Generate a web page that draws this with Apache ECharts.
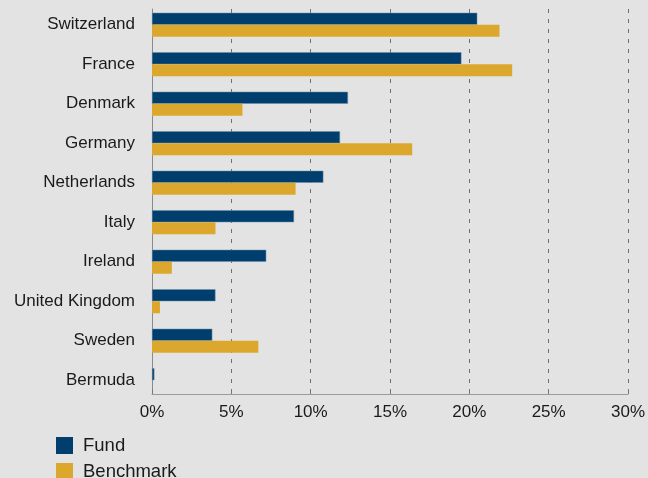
<!DOCTYPE html>
<html><head><meta charset="utf-8">
<script src="https://cdn.jsdelivr.net/npm/echarts@6/dist/echarts.min.js"></script>
<style>html,body{margin:0;padding:0;background:#e3e3e3}#c{width:648px;height:478px}</style>
</head><body><div id="c"></div>
<script>
const categories = ["Switzerland","France","Denmark","Germany","Netherlands","Italy","Ireland","United Kingdom","Sweden","Bermuda"];
const fund = [20.5, 19.5, 12.35, 11.85, 10.8, 8.95, 7.2, 4.0, 3.8, 0.15];
const benchmark = [21.9, 22.7, 5.7, 16.4, 9.05, 4.0, 1.25, 0.5, 6.7, 0];
const xTicks = [0, 5, 10, 15, 20, 25, 30];
const seriesNames = ["Fund", "Benchmark"];
const font = "'Liberation Sans', Arial, sans-serif";
const xMin = xTicks[0], xMax = xTicks[xTicks.length - 1];
const chart = echarts.init(document.getElementById('c'));
chart.setOption({
  backgroundColor: '#e3e3e3',
  animation: false,
  textStyle: {fontFamily: font},
  grid: [
    {left: 152, right: 20, top: 5, height: 395},
    {left: 152, right: 20, top: 9, bottom: 84}
  ],
  legend: {
    orient: 'vertical', left: 56, top: 436, height: 60, itemWidth: 17, itemHeight: 17, itemGap: 7,
    padding: 0, icon: 'rect', data: seriesNames,
    itemStyle: {borderWidth: 0},
    textStyle: {fontSize: 18.5, lineHeight: 17, color: '#1a1a1a', fontFamily: font, padding: [0, 0, 0, 5]}
  },
  xAxis: [
    {type: 'value', gridIndex: 0, min: xMin, max: xMax, interval: 5, show: false},
    {
      type: 'value', gridIndex: 1, min: xMin, max: xMax, interval: 5,
      axisLine: {show: true, lineStyle: {color: '#9a9a9a', width: 1}},
      axisTick: {show: true, inside: true, length: 5, lineStyle: {color: '#777'}},
      splitLine: {show: true, lineStyle: {color: '#707070', type: [4, 6], width: 1}},
      axisLabel: {formatter: v => v + '%', fontSize: 17, color: '#1a1a1a', margin: 10, fontFamily: font}
    }
  ],
  yAxis: [
    {
      type: 'category', gridIndex: 0, data: categories, inverse: true,
      axisLine: {show: false}, axisTick: {show: false}, splitLine: {show: false},
      axisLabel: {fontSize: 17, color: '#1a1a1a', margin: 17, fontFamily: font}
    },
    {
      type: 'value', gridIndex: 1, min: 0, max: 1,
      axisLine: {show: true, lineStyle: {color: '#8a8a8a', width: 1}},
      axisTick: {show: false}, axisLabel: {show: false}, splitLine: {show: false}
    }
  ],
  series: [
    {name: seriesNames[0], type: 'bar', xAxisIndex: 0, yAxisIndex: 0, data: fund, barWidth: 12, barGap: '0%', z: 3,
     itemStyle: {color: '#003f6d', borderColor: '#6f8ea8', borderWidth: 0.5}},
    {name: seriesNames[1], type: 'bar', xAxisIndex: 0, yAxisIndex: 0, data: benchmark, barWidth: 12, z: 3,
     itemStyle: {color: '#dba82d'}}
  ]
});
</script></body></html>
